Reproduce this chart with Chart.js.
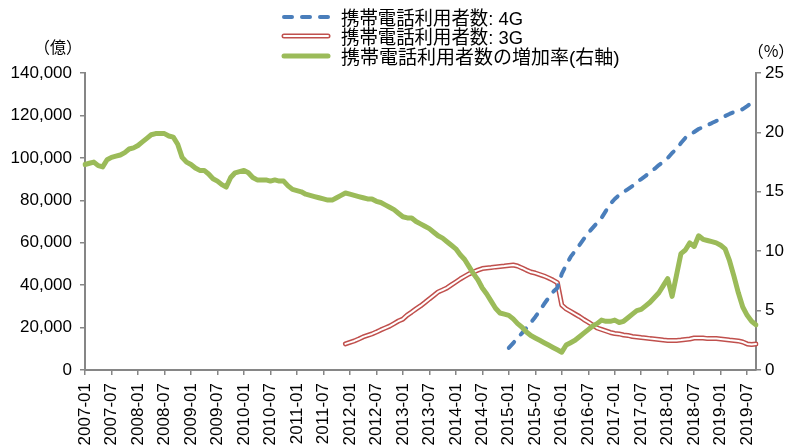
<!DOCTYPE html>
<html lang="ja">
<head>
<meta charset="utf-8">
<title>携帯電話利用者数</title>
<script src="https://cdn.jsdelivr.net/npm/chart.js@4/dist/chart.umd.min.js"></script>
<style>
  html, body { margin: 0; padding: 0; background: #fff; overflow: hidden; }
  #wrap { position: relative; width: 790px; height: 448px; }
</style>
</head>
<body>
<div id="wrap"><canvas id="chart"></canvas></div>
<script>
// Monthly categories, 2007-01 .. 2019-09
const months = [];
for (let y = 2007; y <= 2019; y++) {
  for (let m = 1; m <= 12; m++) {
    if (y === 2019 && m > 9) break;
    months.push(y + '-' + String(m).padStart(2, '0'));
  }
}

// Growth rate of mobile users, % (right axis), 2007-01 .. 2019-09
const growthRate = [
  17.3, 17.4, 17.5, 17.2, 17.1, 17.7, 17.9, 18.0, 18.1, 18.3, 18.6, 18.7,
  18.9, 19.2, 19.5, 19.8, 19.9, 19.9, 19.9, 19.7, 19.6, 19.0, 17.9, 17.5,
  17.3, 17.0, 16.8, 16.8, 16.5, 16.1, 15.9, 15.6, 15.4, 16.2, 16.6, 16.7,
  16.8, 16.6, 16.2, 16.0, 16.0, 16.0, 15.9, 16.0, 15.9, 15.9, 15.5, 15.2,
  15.1, 15.0, 14.8, 14.7, 14.6, 14.5, 14.4, 14.3, 14.3, 14.5, 14.7, 14.9,
  14.8, 14.7, 14.6, 14.5, 14.4, 14.4, 14.2, 14.1, 13.9, 13.7, 13.5, 13.2,
  12.9, 12.8, 12.8, 12.5, 12.3, 12.1, 11.9, 11.6, 11.3, 11.1, 10.8, 10.5,
  10.2, 9.7, 9.3, 8.7, 8.1, 7.6, 6.9, 6.4, 5.8, 5.2, 4.8, 4.7,
  4.6, 4.3, 3.9, 3.6, 3.2, 2.9, 2.7, 2.5, 2.3, 2.1, 1.9, 1.7,
  1.5, 2.1, 2.3, 2.5, 2.8, 3.1, 3.4, 3.7, 3.9, 4.2, 4.1, 4.1,
  4.2, 4.0, 4.1, 4.4, 4.7, 5.0, 5.1, 5.4, 5.7, 6.1, 6.5, 7.1,
  7.7, 6.2, 8.0, 9.8, 10.1, 10.7, 10.4, 11.3, 11.0, 10.9, 10.8, 10.7,
  10.5, 10.2, 9.2, 7.9, 6.5, 5.3, 4.6, 4.1, 3.8
];

// 4G users (left axis), from 2015-01
const lteStart = months.indexOf('2015-01');
const lteValues = [
  10400, 12700, 15100, 17400, 19800, 22400, 25000, 28000, 31100, 34000, 36800, 38700,
  45300, 49500, 53300, 56100, 58900, 61800, 64600, 67000, 69300, 71700, 75000, 78300,
  80600, 82500, 83900, 85300, 86700, 88600, 90000, 91500, 93300, 94800, 96600, 98100,
  99900, 102300, 104200, 107000, 109400, 110800, 112200, 113600, 114500, 115500, 116400, 117400,
  118300, 119700, 120700, 121600, 122100, 123000, 124400, 125900, 127300
];

// 3G users (left axis), from 2011-12
const w3gStart = months.indexOf('2011-12');
const w3gValues = [
  12300,
  13000, 13700, 14600, 15600, 16300, 17000, 17900, 18900, 19800, 20700, 21900, 23100,
  24000, 25900, 27300, 28800, 30200, 31800, 33500, 35100, 36800, 37700, 38700, 40100,
  41500, 42900, 44100, 45300, 46200, 47100, 47800, 48100, 48300, 48600, 48800, 49000,
  49300, 49500, 49000, 48100, 47100, 46200, 45700, 45000, 44300, 43400, 42400, 41200,
  30600, 28800, 27600, 26400, 25200, 23800, 22600, 21200, 19800, 19100, 18400, 17700,
  17200, 17000, 16500, 16300, 15800, 15600, 15300, 15100, 14800, 14600, 14400, 14100,
  13900, 13900, 13900, 14100, 14400, 14600, 15100, 15100, 15100, 14800, 14800, 14800,
  14600, 14400, 14100, 13900, 13700, 13200, 12300, 12000, 12300
];

// Axis ticks
const leftTicks = { min: 0, max: 140000, step: 20000 };
const rightTicks = { min: 0, max: 25, step: 5 };
const tickEvery = 6;

const seriesLabels = ['携帯電話利用者数: 4G', '携帯電話利用者数: 3G', '携帯電話利用者数の増加率(右軸)'];
const unitLeft = '（億）';
const unitRight = '（%）';

// Align partial series to the monthly categories
function alignSeries(start, values) {
  const out = new Array(months.length).fill(null);
  values.forEach((v, i) => { out[start + i] = v; });
  return out;
}
const lteUsers = alignSeries(lteStart, lteValues);
const w3gUsers = alignSeries(w3gStart, w3gValues);

const BLUE = '#4a7ebb', RED = '#c0504d', GREEN = '#9bbb59', AXIS = '#868686';
const FONT = '"Liberation Sans", "Noto Sans CJK JP", sans-serif';

// Legend stacked in three rows plus axis unit captions
const captions = {
  id: 'captions',
  afterDraw(chart) {
    const c = chart.ctx;
    c.save();
    const x0 = 284, x1 = 328, tx = 341;
    const rows = [17, 36, 56];
    c.lineCap = 'round';
    c.lineJoin = 'round';
    // 4G: dashed blue
    c.strokeStyle = BLUE; c.lineWidth = 4; c.setLineDash([8, 10]);
    c.beginPath(); c.moveTo(x0, rows[0]); c.lineTo(x1, rows[0]); c.stroke();
    c.setLineDash([]);
    // 3G: double red
    c.strokeStyle = RED; c.lineWidth = 5;
    c.beginPath(); c.moveTo(x0, rows[1]); c.lineTo(x1, rows[1]); c.stroke();
    c.strokeStyle = '#fff'; c.lineWidth = 2;
    c.beginPath(); c.moveTo(x0, rows[1]); c.lineTo(x1, rows[1]); c.stroke();
    // growth: green
    c.strokeStyle = GREEN; c.lineWidth = 5;
    c.beginPath(); c.moveTo(x0, rows[2]); c.lineTo(x1, rows[2]); c.stroke();

    c.fillStyle = '#000';
    c.font = '19px ' + FONT;
    c.textAlign = 'left';
    c.textBaseline = 'middle';
    const textRows = [19.5, 39, 58.5];
    const maxW = [182, 182, 280];
    seriesLabels.forEach((t, i) => c.fillText(t, tx, textRows[i], maxW[i]));

    c.font = '16px "Noto Sans CJK JP", sans-serif';
    c.textAlign = 'center';
    c.fillText(unitLeft, 58, 47);
    c.fillText(unitRight, 771, 51);
    c.restore();
  }
};

const gridOpts = { drawOnChartArea: false, drawTicks: true, tickLength: 5, color: AXIS, lineWidth: 1.5 };
const borderOpts = { color: AXIS, width: 2 };
const tickFont = { family: FONT, size: 17 };

new Chart(document.getElementById('chart'), {
  type: 'line',
  data: {
    labels: months,
    datasets: [
      { label: seriesLabels[2], data: growthRate, yAxisID: 'y1', borderColor: GREEN, borderWidth: 5, order: 0 },
      { label: seriesLabels[0], data: lteUsers, yAxisID: 'y', borderColor: BLUE, borderWidth: 4, borderDash: [8, 10], order: 1 },
      { label: seriesLabels[1] + ' (inner)', data: w3gUsers, yAxisID: 'y', borderColor: '#fff', borderWidth: 2, order: 2 },
      { label: seriesLabels[1], data: w3gUsers, yAxisID: 'y', borderColor: RED, borderWidth: 5, order: 3 }
    ]
  },
  options: {
    responsive: true,
    maintainAspectRatio: false,
    animation: false,
    layout: { padding: { top: 73, left: 0, right: 0, bottom: 0 } },
    elements: {
      point: { radius: 0, hoverRadius: 0 },
      line: { tension: 0, borderCapStyle: 'round', borderJoinStyle: 'round', fill: false }
    },
    plugins: { legend: { display: false }, tooltip: { enabled: false } },
    scales: {
      x: {
        type: 'category',
        offset: false,
        grid: gridOpts,
        border: borderOpts,
        ticks: {
          autoSkip: false, minRotation: 90, maxRotation: 90, padding: 8,
          color: '#000', font: tickFont,
          callback: (v, i) => (i % tickEvery === 0 ? months[i] : null)
        },
        afterFit: s => { s.height = 78; }
      },
      y: {
        position: 'left',
        min: leftTicks.min, max: leftTicks.max,
        grid: gridOpts,
        border: borderOpts,
        ticks: {
          stepSize: leftTicks.step, padding: 8, color: '#000', font: tickFont,
          callback: v => Number(v).toLocaleString('en-US')
        },
        afterFit: s => { s.width = 85; }
      },
      y1: {
        position: 'right',
        min: rightTicks.min, max: rightTicks.max,
        grid: gridOpts,
        border: borderOpts,
        ticks: { stepSize: rightTicks.step, padding: 4, color: '#000', font: tickFont },
        afterFit: s => { s.width = 34; }
      }
    }
  },
  plugins: [captions]
});
</script>
</body>
</html>
